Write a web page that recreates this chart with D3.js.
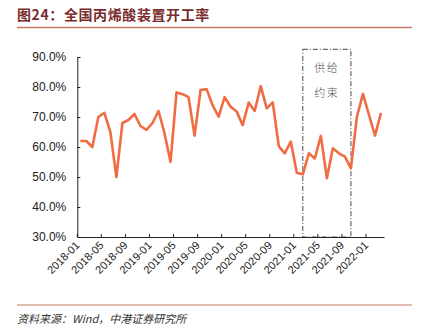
<!DOCTYPE html>
<html><head><meta charset="utf-8">
<script src="https://cdn.jsdelivr.net/npm/d3@7"></script>
<style>body{margin:0;background:#fff}svg{display:block}</style>
</head><body>
<script>
const title = "图24：全国丙烯酸装置开工率";
const source = "资料来源：Wind，中港证券研究所";
const months = [];
for (let y = 2018; y <= 2022; y++) for (let m = 1; m <= 12; m++) {
  if (y === 2022 && m > 3) break;
  months.push(y + "-" + String(m).padStart(2, "0"));
}
const values = [62.0,62.0,60.0,70.0,71.4,65.0,50.0,68.0,69.0,71.0,67.0,65.7,68.0,72.0,64.6,55.0,
  78.2,77.6,76.6,63.8,79.0,79.3,73.9,70.1,76.6,73.4,71.8,67.3,74.8,72.0,80.3,72.9,74.9,60.3,57.9,61.8,
  51.4,50.9,57.9,56.2,63.7,49.6,59.6,57.9,56.8,52.9,70.1,77.7,70.7,63.8,71.4];
const tickLabels = ["2018-01","2018-05","2018-09","2019-01","2019-05","2019-09","2020-01","2020-05","2020-09","2021-01","2021-05","2021-09","2022-01"];
const yTicks = [30,40,50,60,70,80,90];
const boxRange = ["2021-02","2021-10"];
const boxText = ["供给","约束"];

const W = 428, H = 330;
const svg = d3.select("body").append("svg").attr("width", W).attr("height", H);

// Title
svg.append("text").attr("x", 17).attr("y", 20).text(title)
  .attr("font-family", "'Noto Sans CJK SC', sans-serif").attr("font-size", 14).attr("font-weight", "bold")
  .attr("letter-spacing", 0.6).attr("fill", "#7a2b2b");
svg.append("line").attr("x1", 17).attr("x2", 412).attr("y1", 27.5).attr("y2", 27.5)
  .attr("stroke", "#c87a62").attr("stroke-width", 1.5);

// Footer
svg.append("line").attr("x1", 17).attr("x2", 412).attr("y1", 305).attr("y2", 305)
  .attr("stroke", "#c87a62").attr("stroke-width", 1.2);
svg.append("text").attr("x", 17).attr("y", 323).text(source)
  .attr("font-family", "'Noto Sans CJK SC', sans-serif").attr("font-size", 11).attr("font-style", "italic")
  .attr("fill", "#333");

const x0 = 77.3, x1 = 384, yTop = 57, yBot = 237;
const x = d3.scaleBand().domain(months).range([x0, x1]).padding(0);
const y = d3.scaleLinear().domain([30, 90]).range([yBot, yTop]);
const xc = d => x(d) + x.bandwidth() / 2;

// Dash-dot box
const bx0 = xc(boxRange[0]), bx1 = xc(boxRange[1]);
svg.append("rect").attr("x", bx0).attr("y", 49.3).attr("width", bx1 - bx0).attr("height", yBot - 49.3)
  .attr("fill", "none").attr("stroke", "#333").attr("stroke-width", 0.9).attr("stroke-dasharray", "5,2,1,2");
boxText.forEach((t, i) => {
  svg.append("text").attr("x", (bx0 + bx1) / 2).attr("y", 72 + i * 24.5).text(t)
    .attr("text-anchor", "middle").attr("font-family", "'Noto Sans CJK SC', serif").attr("font-size", 11)
    .attr("font-weight", 300).attr("fill", "#555").attr("letter-spacing", 1.5);
});

// Y axis
const yAxis = d3.axisLeft(y).tickValues(yTicks).tickFormat(d => d.toFixed(1) + "%").tickSize(-3).tickPadding(11);
const gy = svg.append("g").attr("transform", `translate(${x0},0)`).call(yAxis);
gy.select(".domain").attr("stroke", "#222");
gy.selectAll(".tick line").attr("stroke", "#222");
gy.selectAll("text").attr("font-family", "'Liberation Sans', Arial, sans-serif").attr("font-size", 12).attr("fill", "#222");

// X axis
const xAxis = d3.axisBottom(x).tickValues(tickLabels).tickSize(-3).tickSizeOuter(0);
const gx = svg.append("g").attr("transform", `translate(0,${yBot})`).call(xAxis);
gx.selectAll(".tick").attr("transform", d => `translate(${x(d)},0)`);
gx.select(".domain").attr("stroke", "#222");
gx.selectAll(".tick line").attr("stroke", "#222");
gx.selectAll("text").attr("font-family", "'Liberation Sans', Arial, sans-serif").attr("font-size", 11).attr("fill", "#222")
  .attr("text-anchor", "end").attr("dy", 0).attr("y", 0)
  .attr("transform", "translate(3,9) rotate(-45)");

// Line
const line = d3.line().x((d, i) => xc(months[i])).y(d => y(d));
svg.append("path").datum(values).attr("d", line).attr("fill", "none")
  .attr("stroke", "#f06c45").attr("stroke-width", 2.6).attr("stroke-linejoin", "round");
</script>
</body></html>
